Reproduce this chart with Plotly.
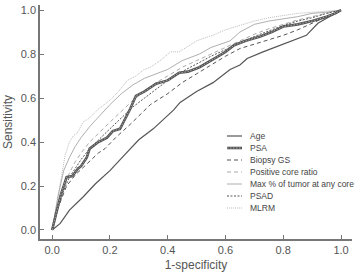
import plotly.graph_objects as go

# ---- data ----
age_x = [0, 0.028, 0.06, 0.107, 0.15, 0.2, 0.25, 0.3, 0.35, 0.42, 0.443, 0.5, 0.557, 0.616, 0.65, 0.675, 0.73, 0.79, 0.84, 0.88, 0.92, 0.96, 1.0]
age_y = [0, 0.03, 0.09, 0.15, 0.21, 0.27, 0.34, 0.41, 0.46, 0.545, 0.58, 0.63, 0.67, 0.73, 0.75, 0.78, 0.81, 0.84, 0.865, 0.885, 0.94, 0.97, 1.0]

psa_x = [0, 0.01, 0.02, 0.03, 0.045, 0.05, 0.07, 0.09, 0.1, 0.12, 0.13, 0.16, 0.19, 0.21, 0.235, 0.26, 0.27, 0.29, 0.32, 0.36, 0.4, 0.44, 0.47, 0.51, 0.54, 0.57, 0.6, 0.63, 0.67, 0.72, 0.76, 0.8, 0.85, 0.9, 0.95, 0.98, 1.0]
psa_y = [0, 0.05, 0.11, 0.16, 0.22, 0.24, 0.245, 0.28, 0.29, 0.33, 0.37, 0.4, 0.42, 0.45, 0.46, 0.52, 0.55, 0.61, 0.63, 0.665, 0.68, 0.715, 0.72, 0.74, 0.765, 0.786, 0.81, 0.84, 0.86, 0.88, 0.9, 0.925, 0.935, 0.95, 0.97, 0.985, 1.0]

gs_x = [0, 0.02, 0.05, 0.08, 0.12, 0.16, 0.183, 0.22, 0.27, 0.3, 0.34, 0.4, 0.45, 0.5, 0.55, 0.6, 0.65, 0.7, 0.75, 0.8, 0.85, 0.9, 0.95, 1.0]
gs_y = [0, 0.1, 0.2, 0.25, 0.3, 0.35, 0.37, 0.42, 0.48, 0.52, 0.57, 0.62, 0.67, 0.71, 0.75, 0.79, 0.825, 0.845, 0.865, 0.885, 0.91, 0.94, 0.97, 1.0]

pcr_x = [0, 0.02, 0.04, 0.06, 0.08, 0.1, 0.13, 0.16, 0.2, 0.24, 0.28, 0.32, 0.36, 0.4, 0.45, 0.5, 0.55, 0.6, 0.65, 0.7, 0.75, 0.8, 0.85, 0.9, 0.95, 1.0]
pcr_y = [0, 0.12, 0.2, 0.26, 0.31, 0.35, 0.4, 0.44, 0.49, 0.54, 0.59, 0.63, 0.67, 0.7, 0.74, 0.77, 0.8, 0.83, 0.86, 0.89, 0.915, 0.935, 0.955, 0.97, 0.985, 1.0]

max_x = [0, 0.02, 0.04, 0.06, 0.08, 0.1, 0.13, 0.166, 0.2, 0.24, 0.28, 0.32, 0.36, 0.4, 0.45, 0.51, 0.55, 0.616, 0.65, 0.7, 0.75, 0.8, 0.85, 0.9, 0.95, 1.0]
max_y = [0, 0.15, 0.27, 0.33, 0.38, 0.42, 0.47, 0.52, 0.57, 0.62, 0.66, 0.69, 0.71, 0.73, 0.77, 0.8, 0.83, 0.86, 0.9, 0.935, 0.95, 0.96, 0.97, 0.985, 0.99, 1.0]

psad_x = [0, 0.02, 0.04, 0.06, 0.08, 0.1, 0.13, 0.16, 0.2, 0.24, 0.28, 0.32, 0.36, 0.4, 0.45, 0.5, 0.55, 0.6, 0.65, 0.7, 0.75, 0.8, 0.85, 0.9, 0.95, 1.0]
psad_y = [0, 0.1, 0.18, 0.24, 0.28, 0.32, 0.37, 0.41, 0.46, 0.51, 0.56, 0.6, 0.64, 0.68, 0.72, 0.755, 0.79, 0.82, 0.85, 0.88, 0.905, 0.93, 0.95, 0.965, 0.985, 1.0]

mlrm_x = [0, 0.01, 0.02, 0.028, 0.045, 0.06, 0.075, 0.087, 0.107, 0.13, 0.156, 0.2, 0.23, 0.26, 0.29, 0.315, 0.34, 0.374, 0.41, 0.44, 0.453, 0.5, 0.557, 0.6, 0.65, 0.7, 0.75, 0.8, 0.85, 0.9, 0.95, 1.0]
mlrm_y = [0, 0.08, 0.15, 0.21, 0.34, 0.4, 0.43, 0.44, 0.49, 0.51, 0.545, 0.59, 0.63, 0.68, 0.7, 0.727, 0.74, 0.77, 0.81, 0.81, 0.82, 0.86, 0.886, 0.91, 0.93, 0.95, 0.965, 0.975, 0.985, 0.99, 0.995, 1.0]

labels = ["Age", "PSA", "Biopsy GS", "Positive core ratio",
          "Max % of tumor at any core", "PSAD", "MLRM"]
tick_vals = [0, 0.2, 0.4, 0.6, 0.8, 1.0]
tick_text = ["0.0", "0.2", "0.4", "0.6", "0.8", "1.0"]

FONT = "Liberation Sans, Arial, sans-serif"

styles = [
    dict(color="#555555", width=1.2, dash="solid"),
    dict(color="#555555", width=2.6, dash="solid"),
    dict(color="#555555", width=1.0, dash="4px,3px"),
    dict(color="#aaaaaa", width=1.0, dash="4px,3px"),
    dict(color="#9a9a9a", width=0.8, dash="solid"),
    dict(color="#555555", width=1.0, dash="2px,1.5px"),
    dict(color="#aaaaaa", width=0.8, dash="1px,1px"),
]
bead = dict(color="#a8a8a8", width=1, dash="1.5px,1.5px")

series = [(age_x, age_y), (psa_x, psa_y), (gs_x, gs_y), (pcr_x, pcr_y),
          (max_x, max_y), (psad_x, psad_y), (mlrm_x, mlrm_y)]

fig = go.Figure()
order = [6, 4, 3, 5, 2, 0, 1]
for i in order:
    xs, ys = series[i]
    fig.add_trace(go.Scatter(x=xs, y=ys, mode="lines", name=labels[i],
                             line=styles[i], showlegend=False, hoverinfo="skip"))
    if i == 1:
        fig.add_trace(go.Scatter(x=xs, y=ys, mode="lines", showlegend=False,
                                 line=bead, hoverinfo="skip"))

# compact legend in paper coordinates
W, H = 358, 275
ml, mr, mt, mb = 40, 6, 5, 36
pw, ph = W - ml - mr, H - mt - mb
def px2paper(px, py):
    return (px - ml) / pw, 1 - (py - mt) / ph

for k, lab in enumerate(labels):
    py = 136 + 12 * k
    x0, yy = px2paper(227, py)
    x1, _ = px2paper(242, py)
    st = styles[k]
    fig.add_shape(type="line", xref="paper", yref="paper", x0=x0, x1=x1, y0=yy, y1=yy,
                  line=dict(color=st["color"], width=st["width"], dash=st["dash"]))
    if k == 1:
        fig.add_shape(type="line", xref="paper", yref="paper", x0=x0, x1=x1, y0=yy, y1=yy,
                      line=bead)
    tx, _ = px2paper(249, py)
    fig.add_annotation(xref="paper", yref="paper", x=tx, y=yy, text=lab, showarrow=False,
                       xanchor="left", yanchor="middle", borderpad=0,
                       font=dict(family=FONT, size=8.5, color="#444444"))

axis_common = dict(showline=True, linecolor="#777777", linewidth=1.5, showgrid=False,
                   zeroline=False, ticks="inside", ticklen=4, tickcolor="#777777",
                   tickwidth=1, tickvals=tick_vals, ticktext=tick_text,
                   tickfont=dict(family=FONT, size=11, color="#555555"))

fig.update_layout(
    width=W, height=H,
    margin=dict(l=ml, r=mr, t=mt, b=mb),
    paper_bgcolor="white", plot_bgcolor="white",
    showlegend=False,
    xaxis=dict(range=[-0.042, 1.038], title=dict(text="1-specificity", standoff=6,
               font=dict(family=FONT, size=12, color="#555555")), **axis_common),
    yaxis=dict(range=[-0.041, 1.023], title=dict(text="Sensitivity", standoff=6,
               font=dict(family=FONT, size=12, color="#555555")), **axis_common),
)

fig.write_html("out.html")
